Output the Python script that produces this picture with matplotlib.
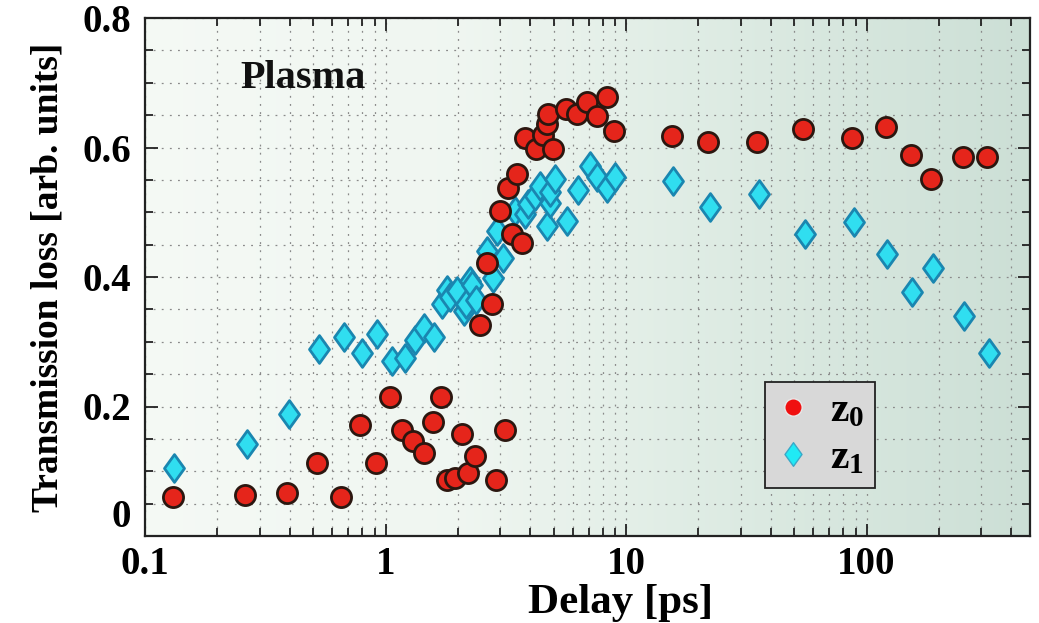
import numpy as np
import matplotlib
matplotlib.use("Agg")
import matplotlib.pyplot as plt
from matplotlib.colors import LinearSegmentedColormap
from matplotlib.path import Path
from matplotlib.lines import Line2D
from matplotlib.ticker import FixedLocator, NullFormatter, LogLocator

plt.rcParams['font.family'] = ['Liberation Serif', 'DejaVu Serif']
plt.rcParams['font.weight'] = 'bold'
plt.rcParams['mathtext.fontset'] = 'custom'
plt.rcParams['mathtext.rm'] = 'Liberation Serif:bold'
plt.rcParams['mathtext.it'] = 'Liberation Serif:bold'
plt.rcParams['mathtext.bf'] = 'Liberation Serif:bold'

# ---- data ----
z0_delay = [0.131, 0.26, 0.39, 0.52, 0.65, 0.78, 0.91, 1.04, 1.17, 1.30, 1.45, 1.57,
            1.70, 1.80, 1.95, 2.08, 2.20, 2.36, 2.47, 2.64, 2.77, 2.88, 2.99, 3.14,
            3.23, 3.36, 3.52, 3.70, 3.80, 4.23, 4.52, 4.70, 4.74, 4.97, 5.63, 6.25,
            6.89, 7.57, 8.34, 8.91, 15.5, 21.9, 35.0, 54.5, 87.1, 120.5, 153, 185,
            252, 317]
z0_loss = [0.060, 0.063, 0.066, 0.113, 0.060, 0.172, 0.113, 0.215, 0.164, 0.147, 0.128, 0.176,
           0.215, 0.086, 0.090, 0.158, 0.097, 0.123, 0.326, 0.422, 0.358, 0.086, 0.502, 0.163,
           0.537, 0.467, 0.559, 0.452, 0.614, 0.598, 0.620, 0.637, 0.652, 0.598, 0.660, 0.651,
           0.671, 0.648, 0.678, 0.626, 0.618, 0.609, 0.608, 0.628, 0.615, 0.632, 0.588, 0.552,
           0.586, 0.586]

z1_delay = [0.132, 0.265, 0.397, 0.53, 0.67, 0.80, 0.92, 1.06, 1.20, 1.33, 1.45, 1.59,
            1.72, 1.80, 1.85, 1.98, 2.12, 2.16, 2.25, 2.29, 2.38, 2.64, 2.80, 2.91,
            3.08, 3.45, 3.80, 3.92, 4.20, 4.39, 4.70, 4.85, 4.85, 5.07, 5.69, 6.31,
            7.08, 7.57, 8.34, 9.0, 15.7, 22.3, 35.7, 55.5, 88.7, 121.6, 154.6, 189,
            254, 323]
z1_loss = [0.105, 0.142, 0.189, 0.289, 0.308, 0.283, 0.312, 0.271, 0.275, 0.303, 0.322, 0.308,
           0.358, 0.380, 0.369, 0.378, 0.348, 0.358, 0.394, 0.388, 0.365, 0.440, 0.398, 0.471,
           0.429, 0.502, 0.497, 0.512, 0.525, 0.540, 0.478, 0.514, 0.532, 0.552, 0.486, 0.535,
           0.571, 0.555, 0.537, 0.555, 0.549, 0.508, 0.528, 0.466, 0.485, 0.435, 0.377, 0.414,
           0.340, 0.283]

series_labels = [r'$\mathrm{z}_{0}$', r'$\mathrm{z}_{1}$']
y_ticks = [0, 0.2, 0.4, 0.6, 0.8]
y_ticklabels = ['0', '0.2', '0.4', '0.6', '0.8']
x_ticks = [0.1, 1, 10, 100]
x_ticklabels = ['0.1', '1', '10', '100']

# ---- figure ----
fig = plt.figure(figsize=(10.39, 6.23), dpi=100)
fig.patch.set_facecolor('white')
ax = fig.add_axes([145/1039, 1-536/623, (1030-145)/1039, (536-18)/623])

# background gradient
bg = LinearSegmentedColormap.from_list('bg', [
    (0.0, (0.960, 0.978, 0.960)),
    (0.35, (0.940, 0.965, 0.945)),
    (0.60, (0.880, 0.930, 0.900)),
    (1.0, (0.800, 0.875, 0.838))])
grad = np.linspace(0, 1, 512).reshape(1, -1)
ax.imshow(grad, cmap=bg, aspect='auto', extent=[0, 1, 0, 1],
          transform=ax.transAxes, zorder=0, interpolation='bicubic')

diamond = Path([(0, 1), (0.72, 0), (0, -1), (-0.72, 0), (0, 1)],
               [Path.MOVETO, Path.LINETO, Path.LINETO, Path.LINETO, Path.CLOSEPOLY])

ax.plot(z1_delay, z1_loss, linestyle='none', marker=diamond, ms=20,
        mfc='#30def0', mec='#1a86b0', mew=2.0, zorder=3)
ax.plot(z0_delay, z0_loss, linestyle='none', marker='o', ms=14.5,
        mfc='#e5251b', mec='#2b1710', mew=2.0, zorder=4)

ax.set_xscale('log')
ax.set_xlim(0.1, 478)
ax.set_ylim(0, 0.8)

ax.set_xticks(x_ticks)
ax.set_xticklabels(x_ticklabels)
ax.xaxis.set_minor_locator(LogLocator(base=10, subs=np.arange(2, 10)))
ax.xaxis.set_minor_formatter(NullFormatter())
ax.set_yticks(y_ticks)
ax.set_yticklabels(y_ticklabels)
ax.yaxis.set_minor_locator(FixedLocator(np.arange(0, 0.801, 0.05)))

ax.tick_params(which='both', direction='in', top=True, right=True, colors='#222222',
               labelcolor='black', labelsize=28, width=1.3)
ax.tick_params(which='major', length=9)
ax.tick_params(axis='x', which='major', pad=7)
ax.tick_params(axis='y', which='major', pad=10)
ax.tick_params(which='minor', length=6)
ax.yaxis.get_major_ticks()[0].label1.set_va('bottom')

ax.grid(which='both', axis='both', color='#8a8a8a', linestyle=(0, (1.5, 5)), linewidth=0.9, zorder=1)
ax.set_axisbelow(True)
for s in ax.spines.values():
    s.set_linewidth(1.6)
    s.set_color('#222222')
    s.set_zorder(5)

ax.set_xlabel('Delay [ps]', fontsize=31, fontweight='bold')
ax.xaxis.label.set_va('baseline')
ax.xaxis.set_label_coords((621 - 145) / 885, (536 - 613) / 518)
ax.set_ylabel('Transmission loss [arb. units]', fontsize=27, fontweight='bold', labelpad=12)

ax.text((240 - 145) / 885, (536 - 88) / 518, 'Plasma', transform=ax.transAxes, fontsize=29,
        fontweight='bold', color='#111111', va='baseline', zorder=6)

handles = [Line2D([], [], linestyle='none', marker='o', ms=12.5, mfc='#f01010', mec='#e8e8e8', mew=1.0),
           Line2D([], [], linestyle='none', marker=diamond, ms=17, mfc='#20eaf5', mec='#3aa8c8', mew=1.0)]
leg = ax.legend(handles, series_labels, loc='upper left', bbox_to_anchor=(0.70, 0.297),
                frameon=True, fancybox=False, fontsize=30, borderpad=0.25, labelspacing=0.2,
                handletextpad=0.46, handlelength=0.87, borderaxespad=0)
leg.get_frame().set_facecolor('#d8d8d8')
leg.get_frame().set_edgecolor('#222222')
leg.get_frame().set_linewidth(1.3)
leg.get_frame().set_alpha(1)
leg.set_zorder(7)

fig.savefig('out.png', dpi=100)
